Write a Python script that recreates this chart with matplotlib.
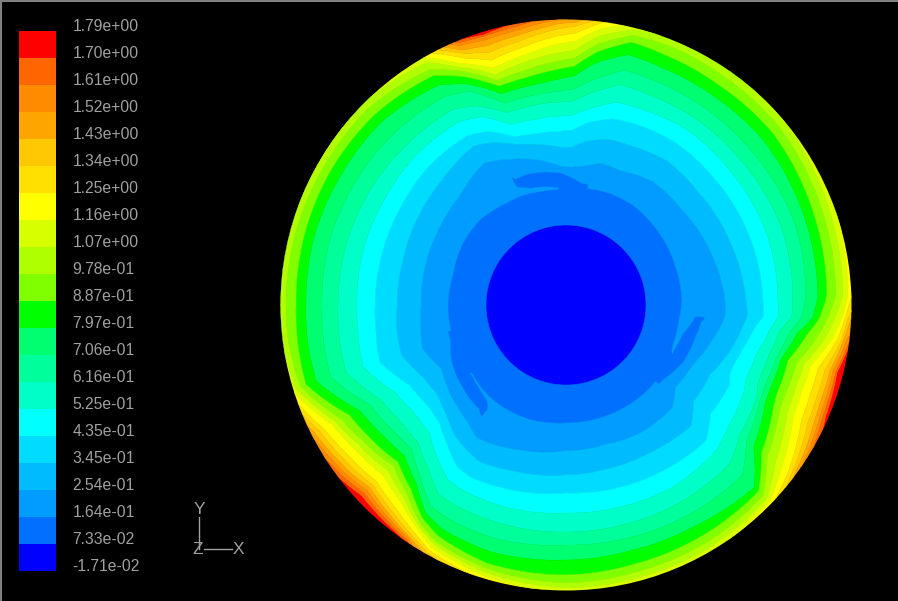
import numpy as np
import matplotlib
matplotlib.use("Agg")
import matplotlib.pyplot as plt
from matplotlib.colors import ListedColormap, BoundaryNorm
from matplotlib.colorbar import ColorbarBase
from matplotlib.patches import Circle
from matplotlib.transforms import ScaledTranslation

tick_labels = ["-1.71e-02", "7.33e-02", "1.64e-01", "2.54e-01", "3.45e-01", "4.35e-01", "5.25e-01",
               "6.16e-01", "7.06e-01", "7.97e-01", "8.87e-01", "9.78e-01", "1.07e+00", "1.16e+00",
               "1.25e+00", "1.34e+00", "1.43e+00", "1.52e+00", "1.61e+00", "1.70e+00", "1.79e+00"]
levels = [float(s) for s in tick_labels]
band_colors = ["#0000ff", "#0070ff", "#009cff", "#00bcff", "#00dcff", "#00ffff", "#00ffc8", "#00ff9a",
               "#00ff70", "#00ff00", "#80ff00", "#b0ff00", "#d8ff00", "#ffff00", "#ffe000", "#ffc800",
               "#ffa500", "#ff8c00", "#ff6600", "#ff0000"]

hole_radius = 80
wall_radius = 285.5

# radius of each contour edge read along rays (degrees); edges start at 0.164 and go outward
ray_angles = [-180, -172, -163, -153, -146, -143, -137, -130, -124, -119, -107, -90, -75, -60, -44, -37,
              -26, -23, -20, -14, -7, -3, 2, 20, 40, 55, 68, 76, 83, 88, 92, 95, 100, 107, 112, 114, 120,
              135, 150, 165]
e_m180 = [118, 145, 169, 191, 209, 228, 244, 260, 270, 280, 286]
e_m172 = [118, 147, 171, 192, 210, 229, 245, 261, 271, 280, 286]
e_m163 = [116, 150, 172, 195, 212, 230, 246, 261, 272, 278, 283, 288]
e_m153 = [116, 140, 160, 176, 192, 208, 220, 232, 243, 252, 258, 263, 272, 277, 282, 286]
e_m146 = [116, 144, 157, 172, 187, 203, 215, 226, 237, 244, 250, 256, 265, 271, 276, 280, 284, 288]
e_m143 = [116.5, 146, 158, 171, 186, 202, 213, 224, 235, 242, 248, 254, 263, 269, 274, 278, 282, 286]
e_m137 = [118, 149, 163, 173, 187, 202, 211, 221, 230, 236, 243, 250, 259, 264, 268, 272, 276, 280]
e_m130 = [119.5, 153, 172, 184, 200, 214, 226, 233, 241, 247, 252, 257, 265, 270, 274, 277, 280, 283]
e_m124 = [120, 160, 176, 195, 211, 228, 242, 251, 257, 262, 265, 268, 273, 277, 280, 282, 284, 286]
e_m119 = [120, 158, 179, 197, 212, 229, 244, 256, 264, 270, 273, 277, 281, 284, 287]
e_m107 = [120, 152, 174, 193, 211, 228, 244, 258, 270, 275, 279, 283, 287]
e_m90 = [118, 146, 170, 188, 208, 227, 240, 255, 270, 278, 283, 287]
e_m75 = [118, 145, 169, 190, 209, 227, 241, 254, 268, 276, 282, 287]
e_m60 = [118, 148, 170, 192, 211, 228, 243, 256, 268, 276, 282, 287]
e_m44 = [118, 148, 174, 195, 209, 228, 245, 262, 268, 274, 279, 283, 287]
e_m37 = [116, 137, 160, 181, 203, 217, 226, 235, 245, 252, 262, 270, 278, 282, 285, 288]
e_m26 = [116, 140, 160, 182, 198, 212, 216, 222, 231, 238, 246, 253, 262, 269, 275, 279, 282, 286]
e_m23 = [115, 142, 163, 178, 195, 208, 215, 221, 229, 237, 245, 252, 261, 268, 273, 277, 280, 283]
e_m20 = [114, 145, 166, 178, 195, 207, 215, 221, 229, 237, 244, 251, 260, 267, 272, 276, 279, 282]
e_m14 = [114, 150, 172, 182, 197, 209, 217, 222, 229, 238, 245, 252, 260, 267, 272, 275, 278, 280]
e_m7 = [114, 157, 178, 190, 205, 215, 225, 233, 243, 254, 262, 269, 274, 278, 280, 283, 286, 288]
e_m3 = [115, 160, 182, 198, 213, 226, 236, 247, 254, 262, 269, 276, 279, 282, 285]
e_p2 = [116, 159, 180, 197, 212, 227, 240, 252, 261, 270, 277, 282, 286]
e_p20 = [116, 154, 176, 196, 213, 229, 243, 254, 264, 273, 280, 286]
e_p40 = [118, 150, 174, 195, 212, 227, 241, 257, 269, 278, 285, 292]
e_p55 = [120, 151, 176, 196, 213, 227, 241, 256, 268, 278, 286, 292]
e_p68 = [120, 145, 172, 194, 210, 226, 241, 256, 269, 279, 287, 292]
e_p76 = [119, 146, 171, 192, 209, 227, 242, 258, 271, 278, 284, 290]
e_p83 = [116, 140, 165, 184, 198, 214, 227, 244, 255, 263, 271, 278, 284, 288]
e_p88 = [116, 138, 158, 175, 190, 204, 216, 229, 239, 247, 255, 264, 272, 279, 283, 287]
e_p92 = [116, 139, 158, 174, 189, 203, 214, 226, 236, 244, 252, 261, 269, 276, 281, 285, 288]
e_p95 = [116, 142, 160, 174, 189, 203, 213, 224, 234, 242, 250, 258, 266, 273, 278, 283, 287]
e_p100 = [116, 147, 163, 174, 188, 202, 212, 222, 231, 238, 246, 253, 261, 268, 274, 279, 283, 287]
e_p107 = [117, 153, 168, 176, 189, 201, 211, 221, 229, 235, 241, 248, 256, 264, 271, 277, 281, 283]
e_p112 = [118, 157, 175, 186, 201, 213, 227, 236, 244, 250, 255, 260, 266, 271, 275, 280, 283, 286]
e_p114 = [118, 159, 178, 190, 206, 218, 234, 242, 250, 256, 260, 265, 272, 277, 281, 285, 288, 291]
e_p120 = [118, 164, 184, 196, 212, 226, 241, 254, 265, 272, 280, 286, 292]
e_p135 = [121, 152, 176, 195, 212, 226, 243, 260, 270, 279, 286, 292]
e_p150 = [120, 148, 172, 192, 210, 227, 244, 260, 271, 279, 285, 292]
e_p165 = [117, 146, 169, 191, 210, 228, 245, 261, 271, 280, 286]
ray_edges = [e_m180, e_m172, e_m163, e_m153, e_m146, e_m143, e_m137, e_m130, e_m124, e_m119, e_m107, e_m90,
             e_m75, e_m60, e_m44, e_m37, e_m26, e_m23, e_m20, e_m14, e_m7, e_m3, e_p2, e_p20, e_p40, e_p55,
             e_p68, e_p76, e_p83, e_p88, e_p92, e_p95, e_p100, e_p107, e_p112, e_p114, e_p120, e_p135, e_p150,
             e_p165]

# three low-value tongues: a wedge of the next band separates them from the 0.164 edge
tongue_rays = [-143, -137, -130, -23, -20, -14, -7, 95, 100, 107, 112]
tongue_inner = [117.5, 120, 123.5, 117, 118, 120, 128, 118, 120, 122, 127]
tongue_outer = [131.6, 134, 135.5, 131, 132, 133.5, 136.5, 133, 135, 136.5, 135.5]
# rays where the tongue has merged with the band inside it
joined_rays = [-163, -153, -146, -37, -26, 83, 88, 92]
joined_outer = [121, 128, 131, 123, 130.5, 123, 128, 132]
# rays next to a merged stretch, where the helper mesh rows stay close to the edge
compact_rays = [-172, -44, 76]
tongue_value = 0.12
mid_value = 0.209

cx, cy = 566, 305
n_edges = len(levels) - 3  # edges at levels[2] ... levels[19]
rows = []
for edges in ray_edges:
    e = list(edges)
    while len(e) < n_edges:
        e.append(max(e[-1] + 4, 292))
    rows.append(e)
E = np.array(rows, dtype=float)

n_rays = len(ray_angles)
F = np.zeros((n_rays, 4))
FZ = np.full((n_rays, 4), mid_value)
edge_z = np.full(n_rays, levels[2])
for i, a in enumerate(ray_angles):
    if a in tongue_rays:
        j = tongue_rays.index(a)
        ri, ro = tongue_inner[j], tongue_outer[j]
        F[i] = [ri - 0.5, ri + 0.5, ro - 0.5, ro + 0.5]
        FZ[i, 1:3] = tongue_value
    elif a in joined_rays:
        ro = joined_outer[joined_rays.index(a)]
        F[i] = [E[i, 0] + 1, E[i, 0] + 2, ro - 0.5, ro + 0.5]
        FZ[i, :3] = tongue_value
        edge_z[i] = tongue_value
    elif a in compact_rays:
        F[i] = E[i, 0] + np.array([1.0, 2.0, 3.0, 4.0])
    else:
        F[i] = E[i, 0] + (E[i, 1] - E[i, 0]) * np.array([0.2, 0.4, 0.6, 0.8])

R = np.column_stack([np.zeros(n_rays), np.full(n_rays, hole_radius), E[:, 0], F, E[:, 1:],
                     np.full(n_rays, 360.0)])
Z = np.column_stack([np.full(n_rays, levels[0] + 1e-3), np.full(n_rays, levels[1]),
                     edge_z, FZ,
                     np.tile(levels[3:-1], (n_rays, 1)),
                     np.full(n_rays, levels[-1] - 1e-3)])
# close the disc, then mesh finely so that rings stay arcs rather than chords
ang = np.array(ray_angles + [180], dtype=float)
R = np.vstack([R, R[0]])
Z = np.vstack([Z, Z[0]])
ang_mesh = np.arange(-180.0, 180.25, 0.5)
R = np.column_stack([np.interp(ang_mesh, ang, R[:, j]) for j in range(R.shape[1])])
Z = np.column_stack([np.interp(ang_mesh, ang, Z[:, j]) for j in range(Z.shape[1])])
theta = np.deg2rad(ang_mesh)
X = cx + R * np.cos(theta)[:, None]
Y = cy - R * np.sin(theta)[:, None]

fig = plt.figure(figsize=(8.98, 6.01), dpi=100, facecolor="black")
ax = fig.add_axes([0, 0, 1, 1], facecolor="black")
ax.set_xlim(0, 898)
ax.set_ylim(601, 0)
ax.axis("off")

cmap = ListedColormap(band_colors)
norm = BoundaryNorm(levels, cmap.N)
cs = ax.contourf(X, Y, Z, levels=levels, cmap=cmap, norm=norm, antialiased=True)
cs.set_edgecolor("face")
cs.set_linewidth(0.4)
cs.set_clip_path(Circle((cx, cy), wall_radius, transform=ax.transData))

grey = "#a0a0a0"
cax = fig.add_axes([19 / 898, (601 - 571) / 601, 37 / 898, 540.3 / 601])
cb = ColorbarBase(cax, cmap=cmap, norm=norm, spacing="uniform", ticks=levels)
cb.outline.set_visible(False)
cb.set_ticklabels(tick_labels)
cax.tick_params(length=0, pad=12.0, labelcolor=grey)
shift = ScaledTranslation(0, -3 / 100, fig.dpi_scale_trans)
for t in cax.get_yticklabels():
    t.set_fontfamily("Liberation Sans")
    t.set_fontsize(11.3)
    t.set_va("bottom")
    t.set_transform(t.get_transform() + shift)

# axis triad
ax.plot([199, 199], [517, 549], color=grey, lw=1)
ax.plot([204, 232], [549, 549], color=grey, lw=1)
for s, x, y in [("Y", 199, 509), ("Z", 198, 549), ("X", 238, 550)]:
    ax.text(x, y, s, color=grey, fontsize=12.5, family="Liberation Sans", ha="center", va="center")

# frame of the screenshot
ax.plot([0.5, 0.5], [601, 0.5], color="#808080", lw=1.5, clip_on=False)
ax.plot([0, 898], [0.5, 0.5], color="#808080", lw=1.5, clip_on=False)

fig.savefig("out.png", dpi=100, facecolor="black")
